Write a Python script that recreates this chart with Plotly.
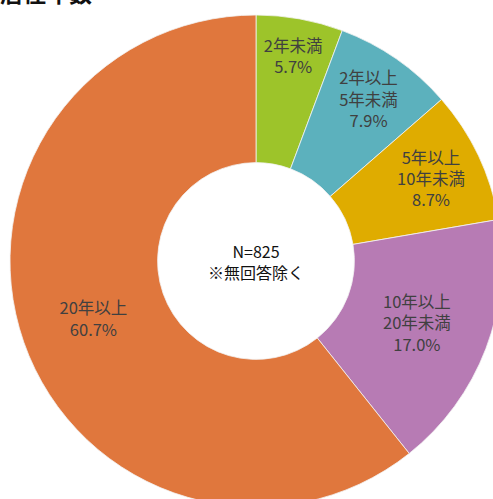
import plotly.graph_objects as go

categories = ["2年未満", "2年以上<br>5年未満", "5年以上<br>10年未満", "10年以上<br>20年未満", "20年以上"]
values = [5.7, 7.9, 8.7, 17.0, 60.7]
colors = ["#9DC42A", "#5CB1BD", "#DFAC00", "#B77BB4", "#E0773D"]
title_text = "居住年数"
center_text = "N=825<br>※無回答除く"

W, H = 512, 510
cx, cy, r = 256, 261, 246

fig = go.Figure(go.Pie(
    labels=categories,
    values=values,
    sort=False,
    direction="clockwise",
    rotation=0,
    hole=0.4,
    marker=dict(colors=colors, line=dict(color="#F2F2F2", width=0.8)),
    texttemplate="%{label}<br>%{value:.1f}%",
    textposition="inside",
    insidetextorientation="horizontal",
    textfont=dict(family="Noto Sans CJK JP", size=16.5, color="#404040"),
    showlegend=False,
    domain=dict(x=[(cx - r) / W, (cx + r) / W], y=[1 - (cy + r) / H, 1 - (cy - r) / H]),
))

fig.add_annotation(text=center_text, x=cx / W, y=1 - cy / H, xref="paper", yref="paper",
                   showarrow=False, font=dict(family="Noto Sans CJK JP", size=16, color="#111111"))
fig.add_annotation(text="<b>" + title_text + "</b>", x=-2 / W, y=1 - 11 / H, xref="paper", yref="paper",
                   xanchor="left", yanchor="bottom", showarrow=False,
                   font=dict(family="Noto Sans CJK JP", size=23, color="#111111"))

fig.update_layout(width=W, height=H, margin=dict(l=0, r=0, t=0, b=0),
                  paper_bgcolor="white", plot_bgcolor="white")

fig.write_html("out.html", config={"displayModeBar": False},
               post_script="document.documentElement.style.overflow='hidden';document.body.style.overflow='hidden';document.body.style.margin='0';")
